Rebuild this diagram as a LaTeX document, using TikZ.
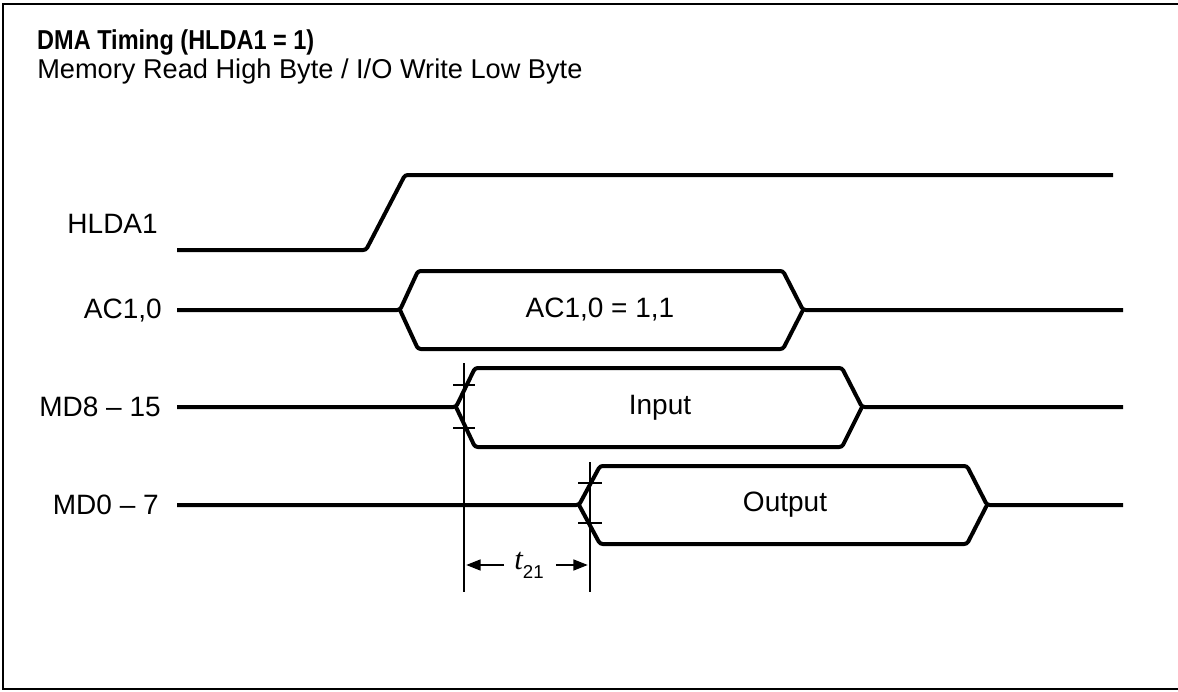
\documentclass[tikz,border=0pt]{standalone}
\usepackage{fontspec}
\setmainfont{Liberation Sans}
\newfontfamily\serifface{Liberation Serif}
\usetikzlibrary{arrows.meta}
\begin{document}
\begin{tikzpicture}[x=0.75pt,y=-0.75pt,
  sig/.style={line width=3pt, line join=round, rounded corners=2pt},
  refline/.style={line width=1.5pt},
  tickmark/.style={line width=1.5pt},
  lbl/.style={anchor=base east, font=\fontsize{21}{25}\selectfont, inner sep=0pt},
  txt/.style={font=\fontsize{21}{25}\selectfont, inner sep=0pt},
  dimarrow/.style={line width=2pt, -{Triangle[length=11pt,width=8pt]}}]
\useasboundingbox (0,0) rectangle (1178,692);
\draw[line width=1.5pt] (1178,4) -- (3,4) -- (3,689) -- (1178,689);
% titles
\node[anchor=base west, inner sep=0pt, xscale=0.86, font=\bfseries\fontsize{20.5}{24}\selectfont] (title) at (37,50) {DMA Timing (HLDA1 = 1)};
\node[anchor=base west, inner sep=0pt, font=\fontsize{20.4}{24}\selectfont] (sub) at (37,79) {Memory Read High Byte / I/O Write Low Byte};
% labels
\node[lbl] (lhlda) at (158,233) {HLDA1};
\node[lbl] (lac) at (162,318) {AC1,0};
\node[lbl] (lmd8) at (161,416) {MD8 -- 15};
\node[lbl] (lmd0) at (159,514) {MD0 -- 7};
% HLDA1
\draw[sig] (177,250) -- (366,250) -- (405,175) -- (1113,175);
% AC1,0
\draw[sig] (177,310) -- (400,310) -- (418,271) -- (783,271) -- (803,310) -- (1123,310);
\draw[sig] (400,310) -- (418,349) -- (783,349) -- (803,310);
\node[txt] (tac) at (600,310) {AC1,0 = 1,1};
% MD8-15
\draw[sig] (177,407) -- (456,407) -- (475,368) -- (842,368) -- (862,407) -- (1123,407);
\draw[sig] (456,407) -- (475,447) -- (842,447) -- (862,407);
\node[txt] (tin) at (660,408) {Input};
% MD0-7
\draw[sig] (177,505) -- (579,505) -- (600,466) -- (967,466) -- (987,505) -- (1123,505);
\draw[sig] (579,505) -- (600,544) -- (967,544) -- (987,505);
\node[txt] (tout) at (785,505) {Output};
% tick marks
\draw[tickmark] (453,385) -- (475,385);
\draw[tickmark] (453,428) -- (475,428);
\draw[tickmark] (578,483) -- (602,483);
\draw[tickmark] (578,523) -- (602,523);
% reference lines
\coordinate (ra1) at (464,363);
\coordinate (ra2) at (464,592);
\coordinate (rb1) at (590,462);
\coordinate (rb2) at (590,592);
\draw[refline] (ra1) -- (ra2);
\draw[refline] (rb1) -- (rb2);
% dimension
\node[inner sep=0pt, font=\fontsize{23}{27}\selectfont] (t21) at (529,565) {{\serifface\itshape t}\raisebox{-0.3em}{\fontsize{14}{16}\selectfont 21}};
\coordinate (da) at (466,565);
\coordinate (db) at (588,565);
\draw[dimarrow] (t21.west) ++(-10,0) -- (da);
\draw[dimarrow] (t21.east) ++(12,0) -- (db);
\end{tikzpicture}
\end{document}
